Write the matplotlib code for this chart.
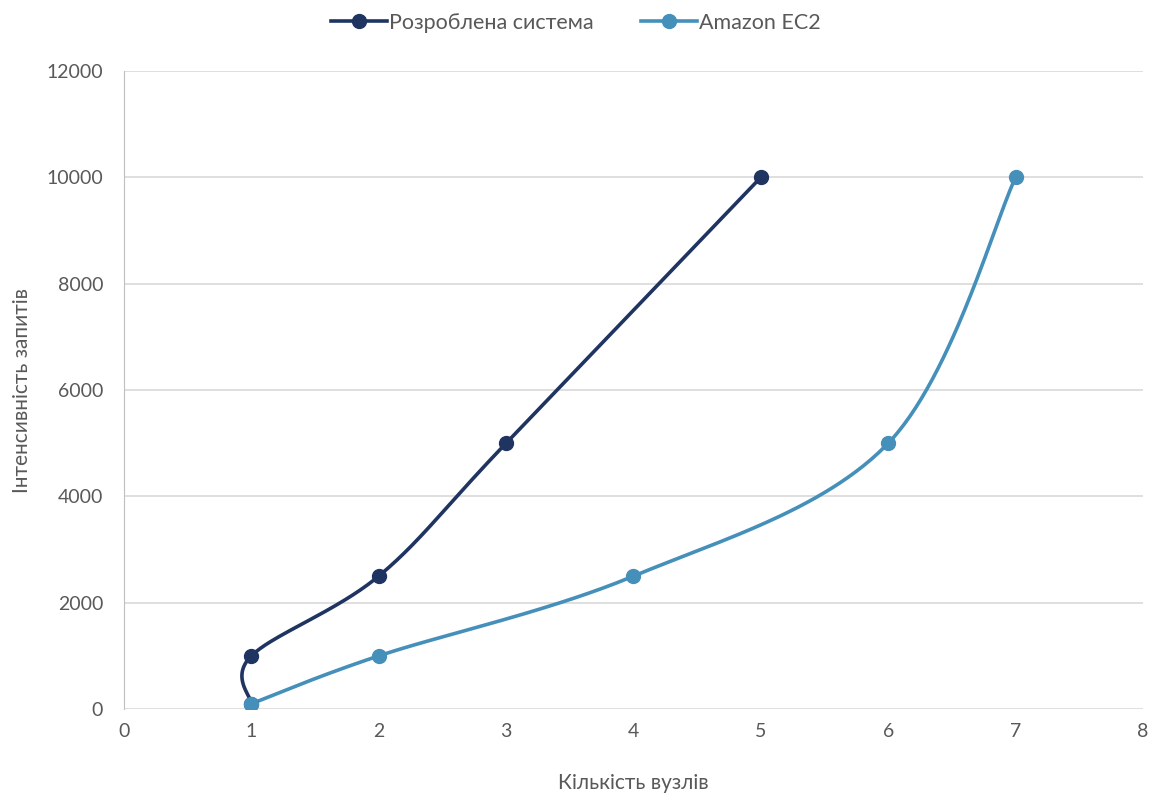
import numpy as np
import matplotlib
matplotlib.use("Agg")
import matplotlib.pyplot as plt
from matplotlib.lines import Line2D

plt.rcParams['font.family'] = ['Lato', 'DejaVu Sans']

series_names = ["Розроблена система", "Amazon EC2"]
x_dev = [1, 1, 2, 3, 5]
y_dev = [100, 1000, 2500, 5000, 10000]
x_ec2 = [1, 2, 4, 6, 7]
y_ec2 = [100, 1000, 2500, 5000, 10000]
colors = ["#1f3461", "#4590ba"]
x_ticks = [0, 1, 2, 3, 4, 5, 6, 7, 8]
y_ticks = [0, 2000, 4000, 6000, 8000, 10000, 12000]

fig = plt.figure(figsize=(11.52, 7.94), dpi=100)
ax = fig.add_axes([0.1076, 0.107, 0.9922 - 0.1076, 0.9106 - 0.107])
ax.set_xlim(0, 8)
ax.set_ylim(0, 12000)
ax.set_xticks(x_ticks)
ax.set_yticks(y_ticks)
ax.grid(axis='y', color='#d9d9d9', linewidth=1.2)
ax.set_axisbelow(True)
for s in ['top', 'right', 'bottom']:
    ax.spines[s].set_visible(False)
ax.spines['left'].set_color('#bfbfbf')
ax.tick_params(axis='x', length=0, labelsize=14, colors='#595959', pad=10)
ax.tick_params(axis='y', length=0, labelsize=14, colors='#595959', pad=15)
ax.set_xlabel("Кількість вузлів", fontsize=15, color='#595959', labelpad=24)
ax.set_ylabel("Інтенсивність запитів", fontsize=15, color='#595959', labelpad=10)


def smooth(xs, ys, n=60):
    pts = ax.transData.transform(np.column_stack([xs, ys]))
    out = []
    m = len(pts)
    for i in range(m - 1):
        p0 = pts[i - 1] if i > 0 else pts[i]
        p1 = pts[i]
        p2 = pts[i + 1]
        p3 = pts[i + 2] if i + 2 < m else pts[i + 1]
        c1 = p1 + (p2 - p0) / 6.0
        c2 = p2 - (p3 - p1) / 6.0
        t = np.linspace(0, 1, n)[:, None]
        seg = ((1 - t) ** 3) * p1 + 3 * ((1 - t) ** 2) * t * c1 + 3 * (1 - t) * t ** 2 * c2 + t ** 3 * p2
        out.append(seg if i == 0 else seg[1:])
    out = np.vstack(out)
    d = ax.transData.inverted().transform(out)
    return d[:, 0], d[:, 1]


handles = []
for xs, ys, c, name in [(x_dev, y_dev, colors[0], series_names[0]), (x_ec2, y_ec2, colors[1], series_names[1])]:
    sx, sy = smooth(xs, ys)
    ax.plot(sx, sy, color=c, linewidth=2.6, solid_capstyle='round', zorder=3)
    ax.plot(xs, ys, linestyle='none', marker='o', markersize=10, color=c, zorder=4)
    handles.append(Line2D([0], [0], color=c, linewidth=2.6, marker='o', markersize=10, label=name))

fig.legend(handles=handles, loc='upper center', bbox_to_anchor=(0.5, 1.008), ncol=2, frameon=False,
           fontsize=15.5, labelcolor='#595959', handlelength=2.6, handletextpad=0.1, columnspacing=2.2)

fig.savefig("out.png", dpi=100)
